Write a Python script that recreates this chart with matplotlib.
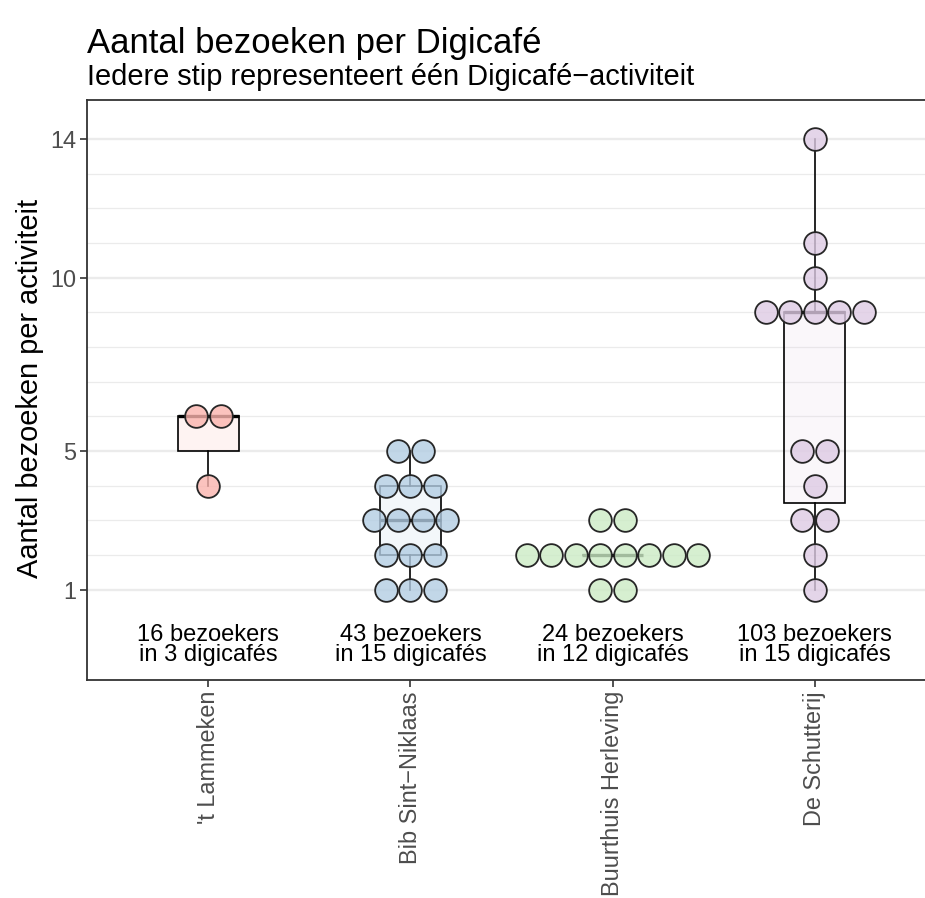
import matplotlib.pyplot as plt
import numpy as np
from collections import Counter

plt.rcParams['font.family'] = ['Liberation Sans', 'DejaVu Sans']

# data: bezoekers per activiteit, per digicafé
cafes = ["'t Lammeken", "Bib Sint\u2212Niklaas", "Buurthuis Herleving", "De Schutterij"]
lammeken = [6, 6, 4]
bib = [5, 5, 4, 4, 4, 3, 3, 3, 3, 2, 2, 2, 1, 1, 1]
buurthuis = [3, 3, 2, 2, 2, 2, 2, 2, 2, 2, 1, 1]
schutterij = [14, 11, 10, 9, 9, 9, 9, 9, 5, 5, 4, 3, 3, 2, 1]
kleuren = ['#FBB4AE', '#B3CDE3', '#CCEBC5', '#DECBE4']  # Pastel1
yticks = [1, 5, 10, 14]

groepen = [lammeken, bib, buurthuis, schutterij]
pos = np.arange(1, len(cafes) + 1)

W, H = 925, 898
fig = plt.figure(figsize=(W / 100, H / 100), dpi=100)
ax = fig.add_axes([87 / W, 218 / H, 849 / W, 580 / H])
xlo, xhi = 0.4, 4.6
ax.set_xlim(xlo, xhi)
ax.set_ylim(-1.6, 15.12)

# grid
ax.set_yticks(yticks)
ax.set_yticks([v for v in range(1, 15) if v not in yticks], minor=True)
ax.grid(which='major', axis='y', color='#EBEBEB', lw=1.7, zorder=0)
ax.grid(which='minor', axis='y', color='#EBEBEB', lw=0.9, zorder=0)
ax.set_axisbelow(True)

# boxplots
bp = ax.boxplot(groepen, positions=pos, widths=0.3, whis=1.5, showfliers=False,
                patch_artist=True, showcaps=False, manage_ticks=False,
                medianprops=dict(color='black', lw=2.4),
                boxprops=dict(edgecolor='black', lw=1.2),
                whiskerprops=dict(color='black', lw=1.2), zorder=2)
for box, c in zip(bp['boxes'], kleuren):
    box.set_facecolor(plt.matplotlib.colors.to_rgba(c, 0.15))

# dots (gestapeld, gecentreerd)
dot_px = 24.5
d = dot_px / (849 / (xhi - xlo))
ms = dot_px * 0.72 - 1.3
for p, vals, c in zip(pos, groepen, kleuren):
    for v, n in Counter(vals).items():
        offs = (np.arange(n) - (n - 1) / 2) * d
        ax.scatter(p + offs, [v] * n, s=ms ** 2, facecolor=plt.matplotlib.colors.to_rgba(c, 0.8),
                   edgecolor='#262626', lw=1.3, zorder=3)
    ax.text(p, -0.6, f"{sum(vals)} bezoekers\nin {len(vals)} digicafés",
            ha='center', va='center', fontsize=17, linespacing=0.9)

ax.set_xticks(pos)
ax.set_xticklabels(cafes, rotation=90, va='top', ha='center')
ax.tick_params(which='major', length=5, width=1.2, color='#333333',
               labelcolor='#4D4D4D', labelsize=16.9, pad=3)
ax.tick_params(which='minor', length=0)
for s in ax.spines.values():
    s.set_color('#333333')
    s.set_linewidth(1.3)

fig.text(30 / W, 1 - 388 / H, 'Aantal bezoeken per activiteit', rotation=90,
         ha='center', va='center', fontsize=20.9)
fig.text(87 / W, 1 - 53 / H, 'Aantal bezoeken per Digicafé', fontsize=25, va='baseline')
fig.text(87 / W, 1 - 85 / H, 'Iedere stip representeert één Digicafé\u2212activiteit',
         fontsize=20.9, va='baseline')

fig.savefig('out.png', dpi=100)
